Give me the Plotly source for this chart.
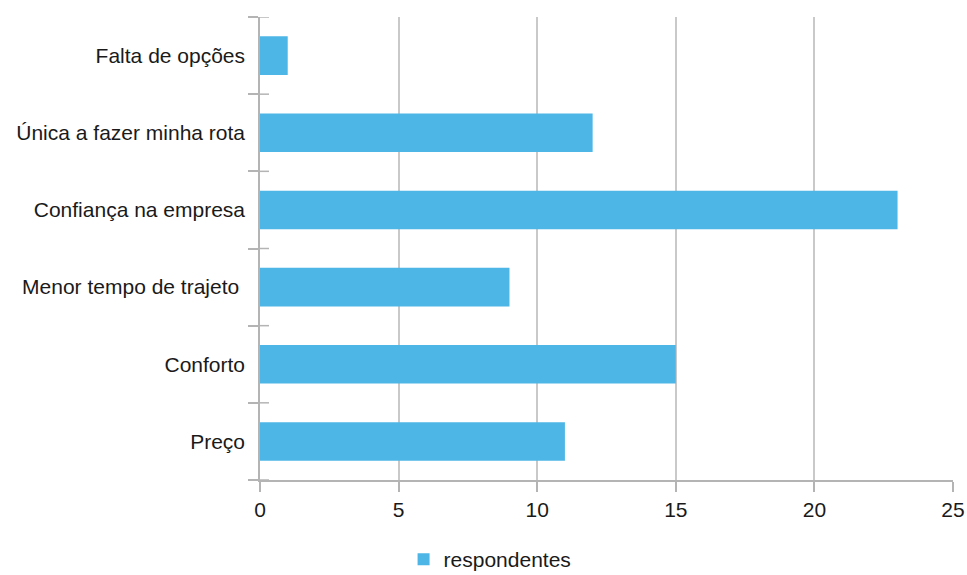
import plotly.graph_objects as go

# Survey answers, listed bottom to top as drawn on the category axis
categories = [
    "Preço",
    "Conforto",
    "Menor tempo de trajeto\u00a0",
    "Confiança na empresa",
    "Única a fazer minha rota",
    "Falta de opções",
]
respondentes = [11, 15, 9, 23, 12, 1]
x_ticks = [0, 5, 10, 15, 20, 25]

BAR_COLOR = "#4eb6e6"
GRID_COLOR = "#c9c9c9"
AXIS_COLOR = "#b4b4b4"
FONT = "Liberation Sans, Arial, sans-serif"
TEXT_COLOR = "#1a1a1a"

fig = go.Figure()
fig.add_trace(go.Bar(
    x=respondentes,
    y=categories,
    orientation="h",
    name="respondentes",
    marker=dict(color=BAR_COLOR, line=dict(width=0)),
))

# Short tick stubs on the inside of the category axis, at every category boundary
for i in range(len(categories) + 1):
    fig.add_shape(
        type="line", xref="x domain", yref="y",
        x0=0, x1=0.013, y0=i - 0.5, y1=i - 0.5,
        line=dict(color=AXIS_COLOR, width=1.5), layer="above",
    )

fig.update_layout(
    width=967, height=575,
    margin=dict(l=260, r=14, t=17, b=95, autoexpand=False),
    paper_bgcolor="white", plot_bgcolor="white",
    font=dict(family=FONT, size=21, color=TEXT_COLOR),
    bargap=0.5,
    showlegend=True,
    legend=dict(
        orientation="h",
        x=0.332, y=-0.172, xanchor="center", yanchor="middle",
        font=dict(size=21, color=TEXT_COLOR),
        itemwidth=30,
    ),
    xaxis=dict(
        range=[0, 25],
        tickvals=x_ticks,
        ticktext=[str(v) for v in x_ticks],
        showgrid=True, gridcolor=GRID_COLOR, gridwidth=1.5,
        showline=True, linecolor=AXIS_COLOR, linewidth=1.5,
        ticks="outside", ticklen=10, tickcolor=AXIS_COLOR, tickwidth=1.5,
        zeroline=False, automargin=False,
        tickfont=dict(size=21, color=TEXT_COLOR),
    ),
    yaxis=dict(
        type="category",
        categoryorder="array", categoryarray=categories,
        range=[-0.5, len(categories) - 0.5],
        tickson="boundaries",
        ticks="outside", ticklen=10, tickcolor=AXIS_COLOR, tickwidth=1.5,
        ticklabelstandoff=9,
        showgrid=False, automargin=False,
        showline=True, linecolor=AXIS_COLOR, linewidth=1.5,
        tickfont=dict(size=21, color=TEXT_COLOR),
    ),
)

fig.write_html("out.html")
